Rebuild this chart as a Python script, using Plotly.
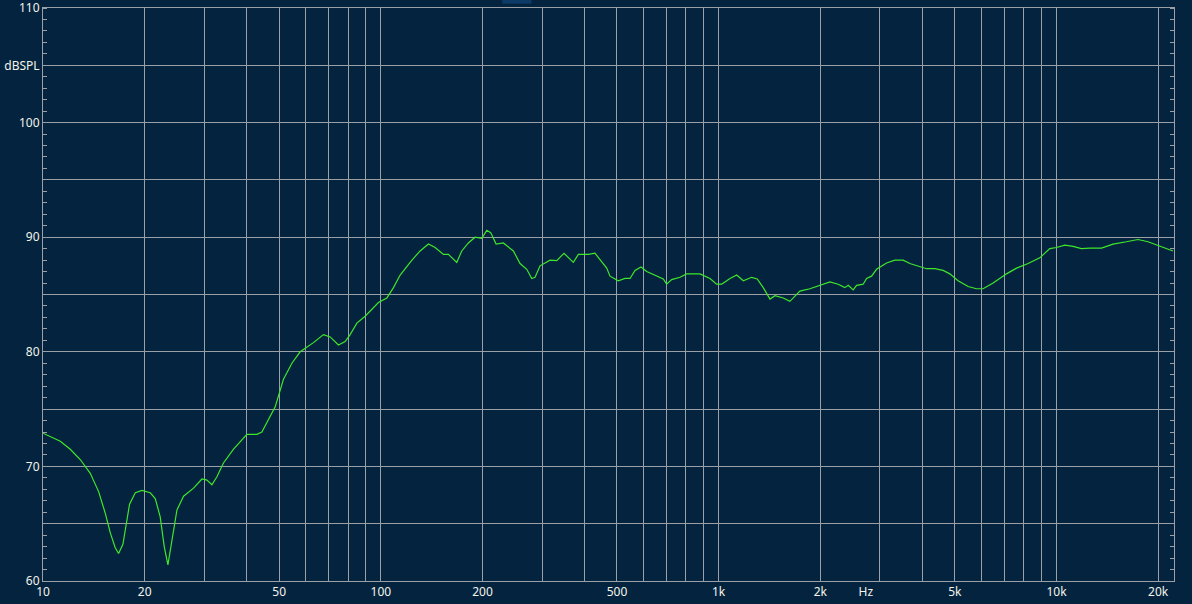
import plotly.graph_objects as go
import math

freq_hz = [10, 11.25, 12.04, 12.89, 13.80, 14.61, 15.29, 15.82, 16.36, 16.74, 17.24, 17.64, 18.04,
           18.76, 19.63, 20.77, 21.49, 22.23, 22.85, 23.43, 24.07, 24.92, 26.06, 27.90, 29.54,
           30.56, 31.62, 32.72, 34.21, 36.64, 40.14, 42.97, 44.45, 46.51, 48.68, 51.50, 54.55,
           57.70, 63.18, 67.65, 70.79, 74.91, 78.42, 81.14, 84.92, 89.85, 98.38, 104.2, 109.0,
           114.1, 123.6, 130.7, 138.3, 144.8, 153.2, 158.5, 167.8, 173.6, 181.6, 190.1, 199.0,
           205.9, 211.5, 219.4, 230.5, 246.8, 258.3, 270.4, 279.7, 286.1, 296.0, 316.9, 331.7,
           348.5, 358.9, 371.4, 384.3, 411.5, 430.5, 445.5, 466.3, 476.9, 504.7, 528.2, 546.5,
           565.5, 589.1, 612.4, 648.0, 685.6, 701.7, 725.9, 768.3, 804.2, 880.6, 942.5, 986.5,
           1021, 1044, 1080, 1131, 1183, 1252, 1301, 1355, 1419, 1468, 1553, 1625, 1740, 1863,
           1994, 2135, 2258, 2364, 2418, 2502, 2560, 2678, 2741, 2836, 2934, 3141, 3324, 3517,
           3681, 3895, 4125, 4364, 4618, 4834, 5114, 5476, 5798, 6064, 6494, 7113, 7616, 8241,
           8925, 9555, 10000, 10583, 11198, 11858, 12545, 13589, 14708, 16111, 17433, 18664,
           19979, 21155, 22130]

spl_db = [72.9, 72.2, 71.5, 70.6, 69.4, 67.8, 65.9, 64.2, 62.9, 62.4, 63.2, 64.8, 66.7,
          67.7, 67.9, 67.7, 67.2, 65.6, 63.0, 61.4, 63.6, 66.2, 67.4, 68.1, 68.9,
          68.8, 68.4, 69.1, 70.3, 71.5, 72.8, 72.8, 73.0, 74.1, 75.2, 77.6, 79.0,
          80.0, 80.8, 81.5, 81.3, 80.6, 80.9, 81.5, 82.5, 83.1, 84.3, 84.7, 85.6,
          86.7, 88.0, 88.8, 89.4, 89.1, 88.5, 88.5, 87.8, 88.8, 89.5, 90.0, 89.9,
          90.6, 90.4, 89.4, 89.5, 88.8, 87.7, 87.2, 86.4, 86.5, 87.5, 88.0, 87.95,
          88.6, 88.2, 87.8, 88.5, 88.5, 88.6, 88.0, 87.3, 86.6, 86.2, 86.4, 86.4,
          87.1, 87.4, 87.0, 86.7, 86.35, 85.9, 86.3, 86.5, 86.8, 86.8, 86.4, 85.9,
          85.9, 86.1, 86.4, 86.7, 86.2, 86.5, 86.35, 85.6, 84.6, 84.9, 84.7, 84.4, 85.3, 85.5,
          85.8, 86.1, 85.9, 85.6, 85.8, 85.4, 85.8, 85.9, 86.4, 86.6, 87.2, 87.75, 88.0, 88.0,
          87.7, 87.5, 87.25, 87.25, 87.1, 86.8, 86.2, 85.7, 85.5, 85.5, 86.0, 86.8, 87.3, 87.7,
          88.2, 89.0, 89.1, 89.3, 89.2, 89.0, 89.05, 89.05, 89.4, 89.6, 89.8, 89.6,
          89.3, 89.05, 88.8]

x_tick_vals = [10, 20, 50, 100, 200, 500, 1000, 2000, 2728, 5000, 10000, 20000]
x_tick_text = ["10", "20", "50", "100", "200", "500", "1k", "2k", "Hz", "5k", "10k", "20k"]
x_grid_vals = [m * d for d in (10, 100, 1000, 10000) for m in range(1, 10)
               if 10 < m * d < 22300]
y_tick_vals = [60, 65, 70, 75, 80, 85, 90, 95, 100, 105, 110]
y_tick_text = ["60", "", "70", "", "80", "", "90", "", "100", "dBSPL", "110"]

BG = "#03233f"
GRID = "#9aa0a6"
TXT = "#f4f4ea"

fig = go.Figure()
fig.add_trace(go.Scatter(x=freq_hz, y=spl_db, mode="lines",
                         line=dict(color="#3fe62a", width=1.2), hoverinfo="skip"))

fig.update_layout(
    width=1192, height=604,
    margin=dict(l=43, r=18, t=8, b=23, autoexpand=False),
    paper_bgcolor=BG, plot_bgcolor=BG,
    showlegend=False,
    font=dict(family="Noto Sans", size=12, color=TXT),
    xaxis=dict(type="log", range=[1, math.log10(22280)], automargin=False,
               tickmode="array", tickvals=x_tick_vals, ticktext=x_tick_text,
               showgrid=False, ticks="", zeroline=False, ticklabeloverflow="allow",
               showline=True, linecolor=GRID, linewidth=1, mirror=True,
               tickfont=dict(size=12, color=TXT),
               minor=dict(tickmode="array", tickvals=x_grid_vals, showgrid=True,
                          gridcolor=GRID, gridwidth=1, ticks="")),
    yaxis=dict(range=[60, 110], tickmode="array", tickvals=y_tick_vals, automargin=False,
               ticktext=y_tick_text, showgrid=True, gridcolor=GRID, gridwidth=1,
               ticks="", zeroline=False, ticklabeloverflow="allow",
               showline=True, linecolor=GRID, linewidth=1, mirror="ticks",
               tickfont=dict(size=12, color=TXT),
               minor=dict(dtick=1, ticks="inside", ticklen=4, tickcolor=GRID,
                          showgrid=False)),
    shapes=[dict(type="rect", xref="paper", yref="paper",
                 x0=0.406, x1=0.432, y0=1.0075, y1=1.0145,
                 fillcolor="#0d3a66", line=dict(width=0))],
)

fig.write_html("out.html", config={"displayModeBar": False},
               post_script="document.body.style.margin='0';"
                           "document.body.style.background='#03233f';")
